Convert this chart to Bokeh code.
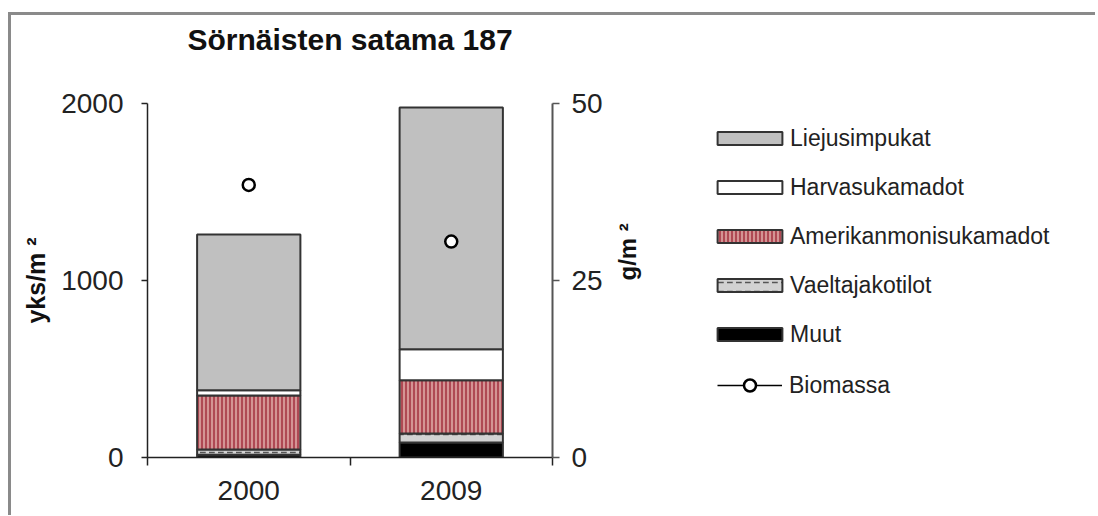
import math
from bokeh.plotting import figure
from bokeh.layouts import row
from bokeh.models import (ColumnDataSource, Range1d, LinearAxis, FixedTicker,
                          Legend, LegendItem)
from bokeh.embed import file_html
from bokeh.resources import INLINE

# ---- data ----
years = ["2000", "2009"]
muut = [15, 85]
vaeltajakotilot = [30, 51]
amerikanmonisukamadot = [305, 301]
harvasukamadot = [30, 175]
liejusimpukat = [880, 1365]
biomassa = [38.5, 30.5]          # g/m2, right axis
y_ticks = [0, 1000, 2000]
bio_ticks = [0, 25, 50]
title_text = "Sörnäisten satama 187"

FONT = "Liberation Sans"
TXT = "#222222"

stackers = ["Muut", "Vaeltajakotilot", "Amerikanmonisukamadot",
            "Harvasukamadot", "Liejusimpukat"]
fills = ["black", "#d2d2d2", "#d49494", "white", "#c0c0c0"]
hatches = [" ", '"', "|", " ", " "]
hatch_colors = ["black", "#555555", "#a3303e", "white", "#c0c0c0"]
hatch_scales = [6, 9, 4, 6, 6]
hatch_weights = [1, 1.5, 1.5, 1, 1]

xs = [i + 0.5 for i in range(len(years))]
bounds = [i for i in range(len(years) + 1)]


def make_data():
    return dict(
        x=xs, year=years, Muut=muut, Vaeltajakotilot=vaeltajakotilot,
        Amerikanmonisukamadot=amerikanmonisukamadot,
        Harvasukamadot=harvasukamadot, Liejusimpukat=liejusimpukat,
        bio=biomassa, bio_xs=[[x] for x in xs], bio_ys=[[b] for b in biomassa])


src = ColumnDataSource(make_data())

p = figure(width=689, height=500, x_range=Range1d(0, len(years)),
           y_range=Range1d(y_ticks[0], y_ticks[-1]),
           output_backend="svg", toolbar_location=None,
           x_axis_type=None, y_axis_type=None,
           min_border_left=136, min_border_right=148,
           min_border_top=88, min_border_bottom=58)
p.outline_line_color = None
p.background_fill_color = "white"
p.border_fill_color = "white"
p.extra_y_ranges = {"bio": Range1d(bio_ticks[0], bio_ticks[-1])}

rs = p.vbar_stack(stackers, x="x", width=0.51, source=src,
                  fill_color=fills, hatch_pattern=hatches,
                  hatch_color=hatch_colors, hatch_scale=hatch_scales,
                  hatch_weight=hatch_weights,
                  line_color="#333333", line_width=2)

sc = p.scatter(x="x", y="bio", source=src, y_range_name="bio", size=12,
               fill_color="white", line_color="black", line_width=2.5)

# ---- title (trailing empty line lifts it away from the frame) ----
p.title.text = title_text + "\n"
p.title.align = "center"
p.title.text_font = FONT
p.title.text_font_style = "bold"
p.title.text_font_size = "30px"
p.title.text_color = "#111111"
p.title.text_line_height = 1.3

# ---- axes ----
left = LinearAxis(ticker=FixedTicker(ticks=y_ticks, minor_ticks=[]),
                  axis_label="yks/m ²")
right = LinearAxis(y_range_name="bio",
                   ticker=FixedTicker(ticks=bio_ticks, minor_ticks=[]),
                   axis_label="g/m ²")
below = LinearAxis(ticker=FixedTicker(ticks=xs, minor_ticks=bounds),
                   major_label_overrides={x: y for x, y in zip(xs, years)})

for ax in (left, right, below):
    ax.major_label_text_font = FONT
    ax.major_label_text_font_size = "28px"
    ax.major_label_text_color = TXT
    ax.axis_label_text_font = FONT
    ax.axis_label_text_font_style = "bold"
    ax.axis_label_text_color = "#111111"
    ax.major_tick_in = 0
    ax.minor_tick_in = 0

left.axis_line_color = "#222222"
left.axis_line_width = 1.5
left.major_tick_line_color = "#222222"
left.major_tick_line_width = 1.5
left.major_tick_out = 6
left.minor_tick_out = 0
left.major_label_standoff = 18
left.axis_label_text_font_size = "25px"
left.axis_label_standoff = 8

right.axis_line_color = "#555555"
right.axis_line_width = 2
right.major_tick_line_color = "#555555"
right.major_tick_line_width = 1.5
right.major_tick_out = 7
right.minor_tick_out = 0
right.major_label_standoff = 12
right.axis_label_text_font_size = "24px"
right.axis_label_standoff = 22
if "axis_label_orientation" in right.properties():
    right.axis_label_orientation = math.pi / 2

below.axis_line_color = "#222222"
below.axis_line_width = 1.5
below.major_tick_out = 0
below.major_tick_line_color = None
below.minor_tick_out = 8
below.minor_tick_line_color = "#222222"
below.minor_tick_line_width = 1.5
below.major_label_standoff = 15

p.add_layout(left, "left")
p.add_layout(right, "right")
p.add_layout(below, "below")

# ---- legend panel: a second figure.  Its copies of the series are out of
#      range and fully selected with transparent selection glyphs, so nothing
#      of them is drawn; the legend swatches use the normal glyph styles. ----
qsrc = ColumnDataSource(make_data())
qsrc.selected.indices = list(range(len(years)))

q = figure(width=395, height=500, output_backend="svg", toolbar_location=None,
           x_range=Range1d(-3, -2), y_range=Range1d(-3, -2),
           x_axis_type=None, y_axis_type=None, min_border=0)
q.outline_line_color = None
q.background_fill_color = "white"
q.border_fill_color = "white"
q.xgrid.visible = False
q.ygrid.visible = False

hidden = dict(selection_fill_alpha=0, selection_line_alpha=0,
              nonselection_fill_alpha=0, nonselection_line_alpha=0)
hidden_hatch = dict(selection_hatch_alpha=0, nonselection_hatch_alpha=0)

proxies = []
for i, s in enumerate(stackers):
    proxies.append(q.vbar(x="x", top=s, width=0.51, source=qsrc,
                          fill_color=fills[i], hatch_pattern=hatches[i],
                          hatch_color=hatch_colors[i], hatch_scale=hatch_scales[i],
                          hatch_weight=hatch_weights[i],
                          line_color="#333333", line_width=2,
                          **hidden, **hidden_hatch))
ml_proxy = q.multi_line(xs="bio_xs", ys="bio_ys", source=qsrc,
                        line_color="black", line_width=1.5,
                        selection_line_alpha=0, nonselection_line_alpha=0)
sc_proxy = q.scatter(x="x", y="bio", source=qsrc, size=12, fill_color="white",
                     line_color="black", line_width=2.5, **hidden)


def style_legend(lg):
    lg.padding = 0
    lg.margin = 0
    lg.border_line_color = None
    lg.background_fill_alpha = 0
    lg.label_standoff = 0
    lg.label_text_font = FONT
    lg.label_text_font_size = "23px"
    lg.label_text_color = TXT


order = [4, 3, 2, 1, 0]
leg1 = Legend(items=[LegendItem(label=stackers[i], renderers=[proxies[i]]) for i in order],
              location=(9, 109))
style_legend(leg1)
leg1.glyph_width = 81
leg1.glyph_height = 16
leg1.label_height = 28
leg1.spacing = 21

leg2 = Legend(items=[LegendItem(label="Biomassa", renderers=[ml_proxy, sc_proxy])],
              location=(17, 57))
style_legend(leg2)
leg2.glyph_width = 65
leg2.glyph_height = 30
leg2.label_height = 30
leg2.label_standoff = 7

q.add_layout(leg1, "center")
q.add_layout(leg2, "center")

layout = row(p, q, styles={"border-top": "3px solid #8a8a8a",
                           "border-left": "3px solid #8a8a8a",
                           "margin-top": "12px", "margin-left": "8px"})

open("out.html", "w", encoding="utf-8").write(file_html(layout, INLINE))
